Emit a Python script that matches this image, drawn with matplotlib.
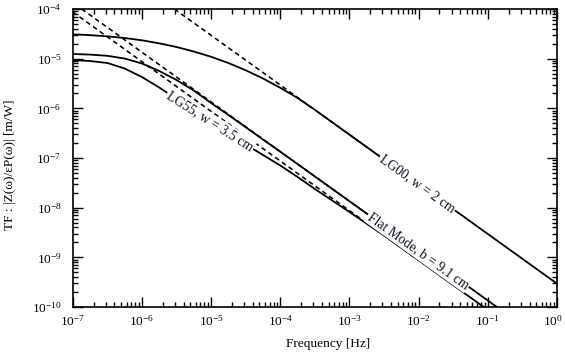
import numpy as np
import matplotlib
matplotlib.use("Agg")
import matplotlib.pyplot as plt
from matplotlib.ticker import LogLocator, NullFormatter, FuncFormatter, FixedLocator

plt.rcParams["font.family"] = ["Liberation Serif", "DejaVu Serif"]
plt.rcParams["mathtext.fontset"] = "stix"

# log10 of frequency [Hz] at which the curves were read
log_f_knee = [-7.0, -6.75, -6.5, -6.25, -6.0, -5.75, -5.5, -5.25, -5.0,
              -4.75, -4.5, -4.25, -4.0, -3.75, -3.5, -3.0, -2.5, -2.0, -1.0, 0.0]

# log10 of |TF| [m/W]
lg00_log_tf = [-4.509, -4.527, -4.550, -4.584, -4.630, -4.691, -4.765, -4.856, -4.962,
               -5.087, -5.234, -5.399, -5.586, -5.792, -6.030, -6.530, -7.030, -7.530, -8.530, -9.530]
flat_log_tf = [-4.906, -4.918, -4.942, -4.997, -5.097, -5.248, -5.429, -5.641, -5.893,
               -6.134, -6.380, -6.628, -6.875, -7.122, -7.372, -7.870, -8.370, -8.870, -9.870, -10.870]
lg55_log_tf = [-5.027, -5.047, -5.087, -5.198, -5.369, -5.580, -5.812, -6.043, -6.275,
               -6.507, -6.728, -6.939, -7.151, -7.382, -7.624, -8.087, -8.560, -9.060, -10.060, -11.060]

# dashed high-frequency asymptotes: two end points each (log10 f, log10 TF)
lg00_asym = ([-5.53, -2.0], [-4.0, -7.53])
flat_asym = ([-6.87, -2.0], [-4.0, -8.87])
lg55_asym = ([-7.0, -2.0], [-4.06, -9.06])

labels = ["LG55, w = 3.5 cm", "LG00, w = 2 cm", "Flat Mode, b = 9.1 cm"]
label_log_f = [-5.016, -2.019, -2.005]
label_log_tf = [-6.262, -7.515, -8.866]
label_rot = [-32.5, -35.7, -35.7]

# decades shown on the axes
x_decades = [-7, -6, -5, -4, -3, -2, -1, 0]
y_decades = [-10, -9, -8, -7, -6, -5, -4]

fig = plt.figure(figsize=(5.65, 3.53), dpi=100)
ax = fig.add_axes([0.1287, 0.1303, 0.8572, 0.8442])

f = 10.0 ** np.array(log_f_knee)
for curve in [lg00_log_tf, flat_log_tf, lg55_log_tf]:
    ax.plot(f, 10.0 ** np.array(curve), color="black", lw=1.3, solid_capstyle="butt")

for xs, ys in [lg00_asym, flat_asym, lg55_asym]:
    ax.plot(10.0 ** np.array(xs), 10.0 ** np.array(ys), color="black", lw=1.15,
            dashes=(3.0, 2.2), zorder=1)

for text, lf, lt, rot in zip(labels, label_log_f, label_log_tf, label_rot):
    ax.text(10.0 ** lf, 10.0 ** lt, text, rotation=rot, rotation_mode="anchor",
            ha="center", va="center", fontsize=9.8, color="#111122", zorder=5,
            bbox=dict(facecolor="white", edgecolor="none", pad=1.0))

ax.set_xscale("log")
ax.set_yscale("log")
ax.set_xlim(10.0 ** x_decades[0], 10.0 ** x_decades[-1])
ax.set_ylim(10.0 ** y_decades[0], 10.0 ** y_decades[-1])


def pow10(v, pos):
    e = int(round(np.log10(v)))
    return r"$\mathdefault{10^{%d}}$" % e


def pow10_x(v, pos):
    # 10^0 sits on the figure edge; it is drawn separately below
    e = int(round(np.log10(v)))
    if e == 0:
        return ""
    return r"$\mathdefault{10^{%d}}$" % e


for axis, decs, fmt in [(ax.xaxis, x_decades, pow10_x), (ax.yaxis, y_decades, pow10)]:
    axis.set_major_locator(FixedLocator(10.0 ** np.array(decs, dtype=float)))
    axis.set_minor_locator(LogLocator(base=10, subs=np.arange(2, 10), numticks=20))
    axis.set_major_formatter(FuncFormatter(fmt))
    axis.set_minor_formatter(NullFormatter())

ax.tick_params(which="both", direction="in", top=True, right=True, width=1.0)
ax.tick_params(which="major", length=7.5)
ax.tick_params(which="minor", length=3.8)
ax.tick_params(axis="y", which="major", pad=8, labelsize=9.6)
ax.tick_params(axis="x", which="major", pad=5, labelsize=9.6)
for sp in ax.spines.values():
    sp.set_linewidth(1.2)

ax.annotate(r"$\mathdefault{10^{0}}$", xy=(1.0, 0.0), xycoords="axes fraction",
            xytext=(-3, -5), textcoords="offset points", ha="center", va="top",
            fontsize=9.6)

ax.set_xlabel("Frequency [Hz]", fontsize=9.6)
ax.set_ylabel("TF : |Z(\u03c9)/\u03b5P(\u03c9)| [m/W]", fontsize=9.6)
ax.xaxis.set_label_coords(0.527, -0.105)
ax.yaxis.set_label_coords(-0.117, 0.476)

fig.savefig("out.png", dpi=100)
plt.close(fig)
